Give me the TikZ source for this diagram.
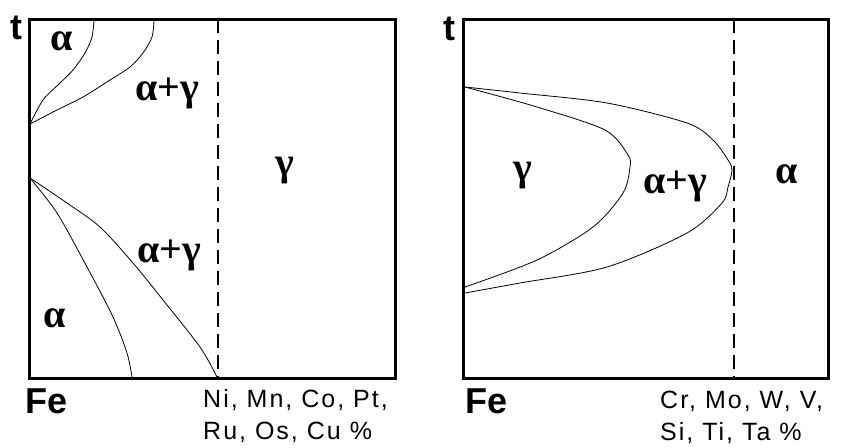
\documentclass[tikz,border=0pt]{standalone}
\usepackage{fontspec}
\setmainfont{Liberation Serif}
\setsansfont{Liberation Sans}

\begin{document}
\begin{tikzpicture}[x=1pt, y=-1pt,
    frame/.style={line width=3pt},
    border/.style={line width=0.8pt},
    limit/.style={line width=1.2pt, dash pattern=on 14pt off 7pt},
    phase/.style={font=\bfseries\fontsize{40}{40}\selectfont, inner sep=0pt, anchor=base},
    axis/.style={font=\sffamily\bfseries\fontsize{36}{36}\selectfont, inner sep=0pt, anchor=base west},
    elem/.style={font=\sffamily\fontsize{25}{32}\selectfont\addfontfeature{LetterSpace=8}, inner sep=0pt, align=left, anchor=base west}]
    \useasboundingbox (0,0) rectangle (842,447);
    % left: gamma-opening elements
    \draw[frame] (29,19) rectangle (395,378);
    \draw[limit] (218,19) -- (218,378);
    \draw[border] plot[smooth] coordinates {(94,20) (92,37) (85,53) (73,70) (60,83) (43,100) (30,124)};
    \draw[border] plot[smooth] coordinates {(154,20) (152,37) (143,53) (130,67) (110,80) (83,97) (57,110) (30,124)};
    \draw[border] plot[smooth] coordinates {(30,178) (57,213) (87,267) (113,317) (127,353) (132,377)};
    \draw[border] plot[smooth] coordinates {(30,178) (67,203) (100,227) (133,263) (163,300) (200,347) (217,377)};
    \node[axis] (tL) at (10,39) {t};
    \node[axis] (feL) at (25,413) {Fe};
    \node[elem] (elL) at (203,439) {Ni, Mn, Co, Pt,\\Ru, Os, Cu \%};
    \node[phase] (aTop) at (62,50) {α};
    \node[phase] (agTop) at (167,100) {α+γ};
    \node[phase] (gL) at (285,175) {γ};
    \node[phase] (agBot) at (169,262) {α+γ};
    \node[phase] (aBot) at (55,327) {α};
    % right: gamma-closing elements
    \draw[frame] (463,19) rectangle (828,378);
    \draw[limit] (734,19) -- (734,378);
    \draw[border] plot[smooth] coordinates {(465,87) (520,93) (607,103) (687,123) (713,140) (728,160) (732,170) (728,187) (722,203) (687,233) (607,267) (520,283) (465,293)};
    \draw[border] plot[smooth] coordinates {(465,87) (537,107) (605,130) (628,155) (630,167) (623,193) (593,227) (537,260) (465,287)};
    \node[axis] (tR) at (443,40) {t};
    \node[axis] (feR) at (465,413) {Fe};
    \node[elem] (elR) at (660,440) {Cr, Mo, W, V,\\Si, Ti, Ta \%};
    \node[phase] (gR) at (523,180) {γ};
    \node[phase] (agR) at (675,193) {α+γ};
    \node[phase] (aR) at (787,183) {α};
\end{tikzpicture}
\end{document}
